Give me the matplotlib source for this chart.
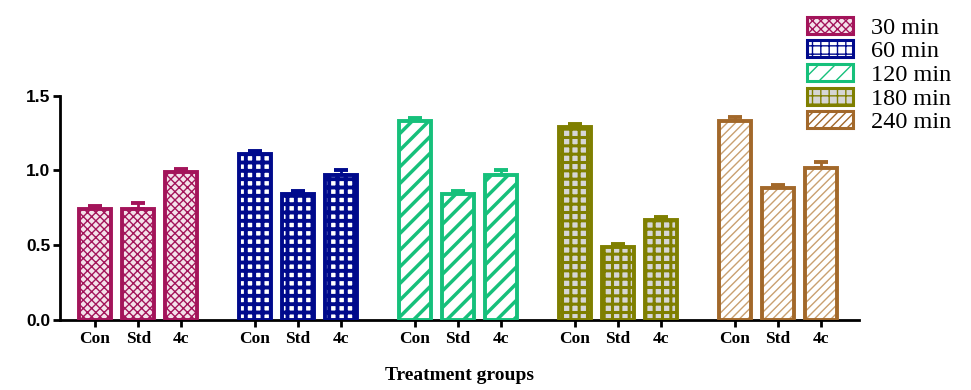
import matplotlib.pyplot as plt
from matplotlib.patches import Patch
import numpy as np

# data
groups = ["30 min", "60 min", "120 min", "180 min", "240 min"]
treatments = ["Con", "Std", "4c"]
means = [
    [0.74, 0.74, 0.99],
    [1.11, 0.84, 0.97],
    [1.33, 0.84, 0.97],
    [1.29, 0.49, 0.67],
    [1.33, 0.88, 1.02],
]
errors = [
    [0.02, 0.04, 0.02],
    [0.02, 0.02, 0.03],
    [0.02, 0.02, 0.03],
    [0.02, 0.02, 0.02],
    [0.03, 0.02, 0.04],
]

# styles per group: edge color, hatch color, face color, hatch, hatch linewidth
edge_colors = ["#A3145A", "#000A8C", "#16C07B", "#7F7F00", "#A2682A"]
hatch_colors = ["#A3145A", "#000A8C", "#16C07B", "#7F7F00", "#C9A070"]
face_colors = ["#F4E2EA", "white", "white", "#D6D6D6", "white"]
hatches = ["xxxx", "++", "//", "++", "////"]
hatch_lws = [1.0, 2.8, 2.5, 2.2, 1.0]

group_gap = 3.7
width = 0.74

fig = plt.figure(figsize=(9.71, 3.9), dpi=100)
ax = fig.add_axes([0.0618, 0.1795, 0.823, 0.575])

tick_pos = []
tick_lab = []
for g, name in enumerate(groups):
    x = g * group_gap + np.arange(len(treatments))
    with plt.rc_context({"hatch.linewidth": hatch_lws[g]}):
        bars = ax.bar(x, means[g], width, color=face_colors[g], edgecolor=hatch_colors[g],
                      linewidth=0, hatch=hatches[g], zorder=2)
        for b in bars:
            if hasattr(b, "set_hatch_linewidth"):
                b.set_hatch_linewidth(hatch_lws[g])
    ax.bar(x, means[g], width, fill=False, edgecolor=edge_colors[g], linewidth=2.8, zorder=3)
    ax.errorbar(x, means[g], yerr=[np.zeros(3), errors[g]], fmt="none",
                ecolor=edge_colors[g], elinewidth=2, capsize=5, capthick=2.8, zorder=1)
    tick_pos.extend(x)
    tick_lab.extend(treatments)

ax.set_xlim(-0.81, 17.68)
ax.set_ylim(0, 1.5)
ax.set_yticks([0.0, 0.5, 1.0, 1.5])
ax.set_yticklabels(["0.0", "0.5", "1.0", "1.5"], fontfamily="Liberation Sans",
                   fontweight="bold", fontsize=12.5)
ax.set_xticks(tick_pos)
ax.set_xticklabels(tick_lab, fontfamily="Liberation Serif", fontweight="bold", fontsize=12.5)
ax.tick_params(axis="both", width=2, length=5, direction="out")
ax.tick_params(axis="x", pad=3)
ax.tick_params(axis="y", pad=2)
for s in ["top", "right"]:
    ax.spines[s].set_visible(False)
for s in ["left", "bottom"]:
    ax.spines[s].set_linewidth(2)

ax.set_xlabel("Treatment groups", fontfamily="Liberation Serif", fontweight="bold",
              fontsize=14, labelpad=14)

handles = []
for g, name in enumerate(groups):
    with plt.rc_context({"hatch.linewidth": hatch_lws[g]}):
        p = Patch(facecolor=face_colors[g], edgecolor=edge_colors[g], hatch=hatches[g],
                  linewidth=2.2, label=name)
        if hasattr(p, "set_hatch_linewidth"):
            p.set_hatch_linewidth(hatch_lws[g])
    handles.append(p)

fig.legend(handles=handles, loc="upper left", bbox_to_anchor=(0.816, 0.995),
           frameon=False, prop={"family": "Liberation Serif", "size": 17.5},
           handlelength=1.9, handleheight=0.7, labelspacing=0.07, handletextpad=0.75,
           borderaxespad=0.2)

fig.savefig("out.png", dpi=100)
